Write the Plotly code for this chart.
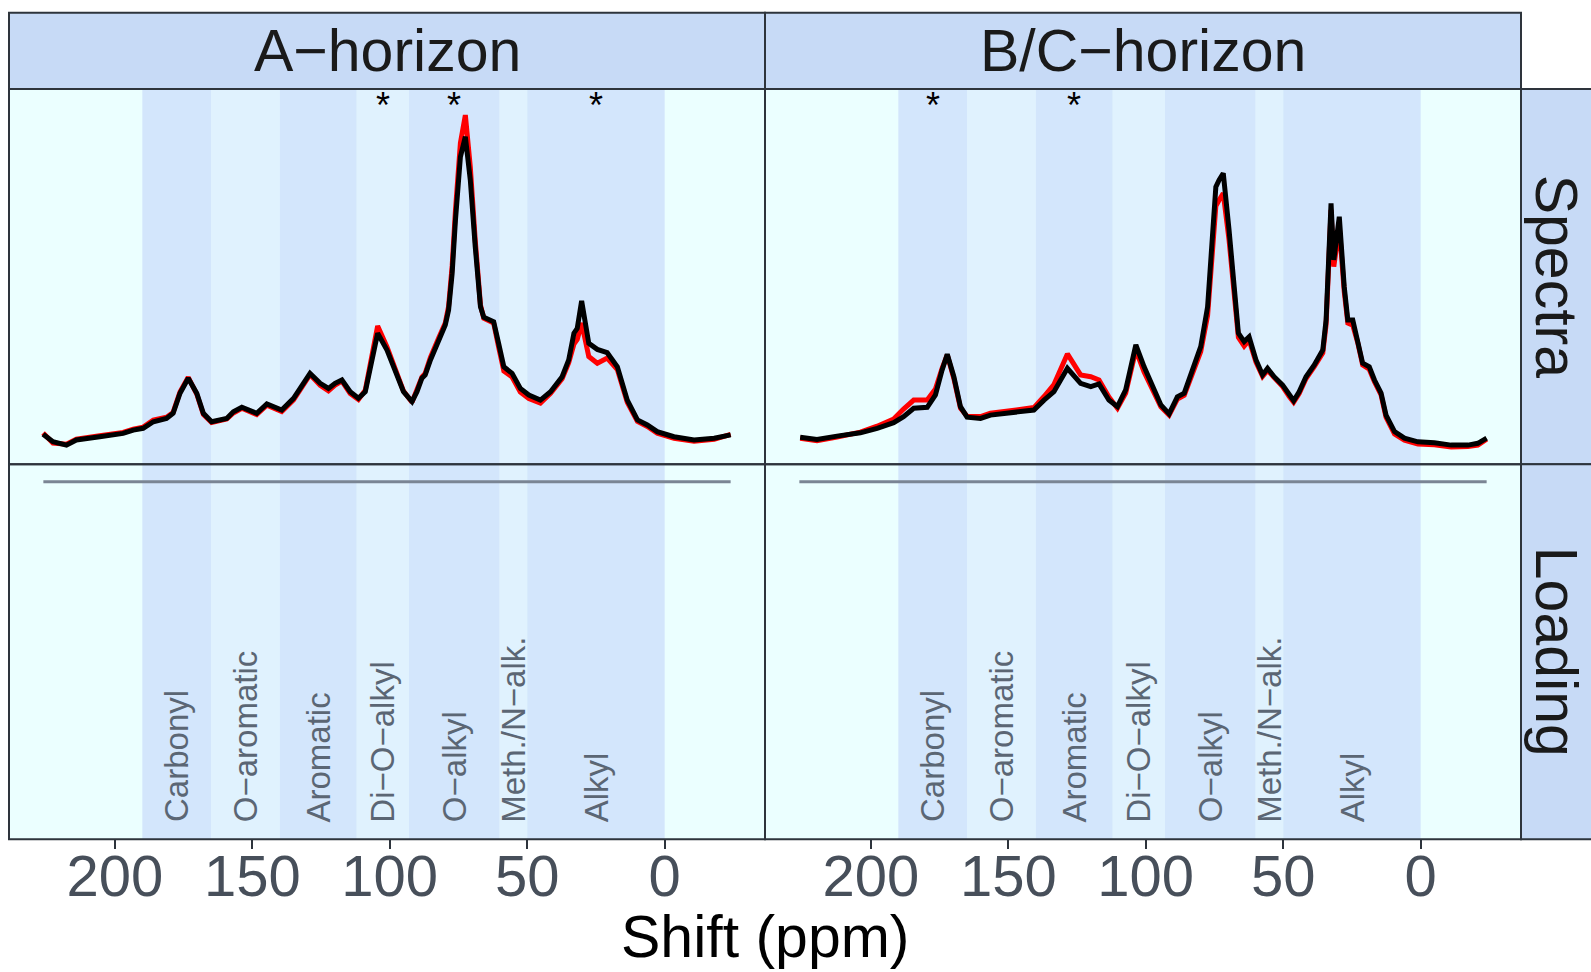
import plotly.graph_objects as go

W, H = 1591, 972
FONT = "Liberation Sans, Arial, Helvetica, sans-serif"

# ---- data -------------------------------------------------------------
facet_cols = ["A−horizon", "B/C−horizon"]
facet_rows = ["Spectra", "Loading"]

# 13C NMR shift regions (ppm)
region_names = ["Carbonyl", "O−aromatic", "Aromatic", "Di−O−alkyl",
                "O−alkyl", "Meth./N−alk.", "Alkyl"]
region_hi = [190, 165, 140, 112, 93, 60, 50]
region_lo = [165, 140, 112, 93, 60, 50, 0]

# regions flagged as significant in each horizon
sig_a = ["Di−O−alkyl", "O−alkyl", "Alkyl"]
sig_bc = ["Carbonyl", "Aromatic"]

# A-horizon spectra (shift in ppm, intensity in a.u.)
ppm_a = [226.1, 222.5, 217.6, 214.0, 205.5, 197.0, 193.3, 189.7, 186.0, 181.2,
         178.8, 176.3, 173.3, 170.2, 167.8, 164.8, 159.3, 156.9, 153.8, 148.4,
         144.7, 139.3, 135.0, 132.0, 129.0, 125.3, 122.3, 119.9, 117.4, 114.4,
         111.4, 108.9, 106.5, 104.4, 101.0, 97.4, 95.0, 91.9, 90.1, 88.3,
         87.1, 85.2, 82.2, 79.8, 78.6, 77.3, 76.1, 74.3, 72.5, 70.7,
         68.9, 67.0, 65.8, 62.2, 60.4, 58.5, 55.5, 52.5, 49.4, 45.2,
         41.5, 37.3, 34.9, 33.0, 31.8, 30.2, 27.6, 24.5, 20.9, 17.2,
         13.6, 9.9, 6.3, 2.7, -3.4, -10.7, -18.0, -24.0]
a_black = [3.9, 1.4, 0.3, 2.0, 3.1, 4.2, 5.3, 5.9, 8.1, 9.2,
           10.9, 17.6, 22.6, 17.6, 10.9, 8.1, 9.2, 11.4, 12.9, 10.9,
           14.0, 12.0, 15.9, 20.3, 24.2, 20.9, 19.2, 20.9, 22.0, 18.1,
           15.9, 18.1, 27.6, 37.6, 32.0, 23.1, 18.1, 14.8, 18.1, 22.6,
           23.7, 28.7, 35.3, 40.3, 45.3, 57.6, 75.3, 96.4, 103.1, 88.7,
           66.4, 46.4, 42.9, 41.4, 34.2, 26.4, 24.2, 19.2, 17.0, 15.3,
           18.1, 23.1, 28.7, 37.6, 39.2, 48.4, 34.2, 32.2, 31.1, 26.4,
           15.3, 8.7, 7.0, 4.8, 3.1, 2.0, 2.6, 3.7]
a_red = [4.3, 1.0, 0.6, 2.3, 3.4, 4.5, 5.6, 6.3, 8.6, 9.6,
         11.2, 18.0, 22.9, 17.3, 10.5, 7.8, 9.0, 11.0, 12.6, 10.5,
         13.6, 11.5, 15.4, 19.8, 23.8, 20.2, 18.4, 20.3, 21.6, 17.5,
         15.5, 18.6, 29.0, 40.0, 33.0, 23.6, 18.3, 14.6, 18.4, 23.0,
         24.2, 29.5, 36.0, 41.0, 46.5, 60.0, 78.5, 101.0, 110.3, 93.0,
         68.5, 47.0, 42.6, 41.0, 33.0, 25.0, 23.0, 18.0, 15.8, 14.3,
         17.6, 22.4, 27.8, 34.0, 35.5, 41.0, 29.8, 27.6, 29.3, 25.5,
         14.6, 8.2, 6.5, 4.3, 2.6, 1.6, 2.2, 3.9]

# B/C-horizon spectra (shift in ppm, intensity in a.u.)
ppm_bc = [225.7, 219.6, 212.3, 203.8, 197.7, 191.7, 188.1, 184.4, 179.5, 176.5,
          174.1, 172.2, 169.8, 167.4, 165.0, 160.1, 156.5, 151.6, 146.7, 140.7,
          137.0, 133.4, 128.5, 123.7, 120.0, 117.0, 113.4, 110.3, 107.3, 103.6,
          100.6, 96.4, 94.5, 91.5, 88.5, 86.0, 83.0, 80.0, 77.5, 75.7,
          74.5, 73.3, 71.8, 69.7, 67.8, 66.3, 64.2, 62.4, 59.9, 57.5,
          55.7, 53.3, 50.2, 47.8, 46.2, 44.2, 41.7, 38.7, 35.6, 34.4,
          32.6, 31.6, 29.6, 27.8, 26.5, 24.7, 22.9, 21.1, 18.7, 16.8,
          14.4, 12.6, 9.5, 5.9, 1.0, -5.0, -11.1, -17.2, -20.8, -24.0]
bc_black = [2.9, 2.2, 3.3, 4.4, 5.9, 7.8, 9.8, 12.6, 12.9, 17.0,
            25.3, 30.6, 23.1, 13.1, 9.6, 9.2, 10.3, 10.9, 11.4, 12.0,
            15.3, 18.1, 25.9, 20.9, 19.8, 20.7, 15.3, 13.1, 18.7, 33.7,
            26.4, 17.6, 13.7, 10.7, 16.4, 17.6, 25.3, 33.1, 46.4, 72.0,
            86.4, 88.7, 90.9, 72.0, 49.8, 37.6, 34.8, 36.4, 28.7, 23.7,
            25.9, 23.1, 20.3, 17.0, 15.1, 18.1, 23.1, 27.0, 32.0, 42.0,
            80.9, 62.0, 76.4, 53.1, 42.0, 42.0, 35.3, 27.6, 26.4, 22.0,
            17.6, 10.3, 4.8, 2.6, 1.4, 1.1, 0.3, 0.3, 0.9, 2.6]
bc_red = [2.6, 1.8, 3.0, 4.6, 6.6, 9.0, 12.3, 15.3, 15.3, 19.0,
          25.8, 30.4, 22.5, 12.6, 9.9, 9.8, 10.9, 11.6, 12.2, 12.8,
          16.5, 20.5, 30.7, 23.7, 23.1, 22.0, 16.3, 12.6, 17.6, 32.0,
          24.7, 16.8, 13.1, 10.3, 15.6, 16.9, 24.2, 31.5, 43.5, 68.0,
          80.0, 82.0, 84.2, 68.7, 48.0, 36.2, 33.3, 35.3, 28.0, 23.2,
          25.2, 22.6, 19.8, 16.5, 14.6, 17.5, 22.5, 26.5, 31.0, 40.5,
          78.7, 59.8, 73.1, 51.5, 41.0, 40.3, 34.5, 27.0, 25.6, 21.4,
          17.0, 9.6, 4.0, 1.9, 0.7, 0.4, -0.3, -0.2, 0.3, 2.3]

# loading trace (flat)
load_ppm = [226.0, -24.0]
load_a = [0.0, 0.0]
load_bc = [0.0, 0.0]

x_ticks = [200, 150, 100, 50, 0]

# ---- styling ----------------------------------------------------------
PANEL_BG = "#EBFFFF"
BAND_DARK = "#D3E6FC"
BAND_LIGHT = "#E0F2FE"
STRIP_BG = "#C7DAF6"
BORDER = "#2E343C"
X_RANGE = [238.5, -36.5]
SPEC_RANGE = [-6.1, 119.0]
LOAD_RANGE = [-1.0, 0.0487]

# panel edges in pixels
col_px = [(9, 765), (765, 1521)]
row_px = [(89, 464.3), (464.3, 839.3)]
strip_top = 12.7
right_strip = (1521, 1595)


def px_x(v):
    return v / W


def px_y(v):
    return 1 - v / H


fig = go.Figure()

# axis ids: row 0 -> spectra, row 1 -> loading
axis_id = {(0, 0): "", (0, 1): "2", (1, 0): "3", (1, 1): "4"}

layout = dict(
    width=W, height=H,
    margin=dict(l=0, r=0, t=0, b=0),
    paper_bgcolor="white",
    plot_bgcolor=PANEL_BG,
    showlegend=False,
    font=dict(family=FONT),
)

for (r, c), aid in axis_id.items():
    xa = dict(
        domain=[px_x(col_px[c][0]), px_x(col_px[c][1])],
        range=X_RANGE, anchor="y" + aid, showgrid=False, zeroline=False,
        showline=False,
    )
    if r == 1:
        xa.update(tickvals=x_ticks, ticktext=[str(t) for t in x_ticks],
                  ticks="outside", ticklen=9, tickwidth=2, tickcolor=BORDER,
                  tickfont=dict(size=58, color="#474F5A", family=FONT),
                  ticklabelstandoff=-23)
    else:
        xa.update(showticklabels=False, ticks="")
    ya = dict(
        domain=[px_y(row_px[r][1]), px_y(row_px[r][0])],
        range=SPEC_RANGE if r == 0 else LOAD_RANGE,
        anchor="x" + aid, showgrid=False, zeroline=False, showline=False,
        showticklabels=False, ticks="",
    )
    layout["xaxis" + aid] = xa
    layout["yaxis" + aid] = ya

fig.update_layout(**layout)

# ---- region bands -----------------------------------------------------
shapes = []
for (r, c), aid in axis_id.items():
    for i, (hi, lo) in enumerate(zip(region_hi, region_lo)):
        shapes.append(dict(
            type="rect", xref="x" + aid, yref="y" + aid + " domain",
            x0=hi, x1=lo, y0=0, y1=1, layer="below", line=dict(width=0),
            fillcolor=BAND_DARK if i % 2 == 0 else BAND_LIGHT,
        ))

# ---- strips and panel borders ----------------------------------------
for c in range(2):
    x0, x1 = col_px[c]
    shapes.append(dict(type="rect", xref="paper", yref="paper",
                       x0=px_x(x0), x1=px_x(x1), y0=px_y(row_px[0][0]), y1=px_y(strip_top),
                       fillcolor=STRIP_BG, line=dict(color=BORDER, width=2), layer="above"))
for r in range(2):
    y0, y1 = row_px[r]
    shapes.append(dict(type="rect", xref="paper", yref="paper",
                       x0=px_x(right_strip[0]), x1=px_x(right_strip[1]),
                       y0=px_y(y1), y1=px_y(y0),
                       fillcolor=STRIP_BG, line=dict(color=BORDER, width=2), layer="above"))
for r in range(2):
    for c in range(2):
        shapes.append(dict(type="rect", xref="paper", yref="paper",
                           x0=px_x(col_px[c][0]), x1=px_x(col_px[c][1]),
                           y0=px_y(row_px[r][1]), y1=px_y(row_px[r][0]),
                           fillcolor="rgba(0,0,0,0)", line=dict(color=BORDER, width=2),
                           layer="above"))
fig.update_layout(shapes=shapes)

# ---- traces -----------------------------------------------------------
spectra = [(ppm_a, a_red, a_black), (ppm_bc, bc_red, bc_black)]
for c, (ppm, red, black) in enumerate(spectra):
    aid = axis_id[(0, c)]
    fig.add_trace(go.Scatter(x=ppm, y=red, mode="lines",
                             line=dict(color="#FF0000", width=5),
                             xaxis="x" + aid, yaxis="y" + aid, hoverinfo="skip"))
    fig.add_trace(go.Scatter(x=ppm, y=black, mode="lines",
                             line=dict(color="#000000", width=5),
                             xaxis="x" + aid, yaxis="y" + aid, hoverinfo="skip"))

for c, load in enumerate([load_a, load_bc]):
    aid = axis_id[(1, c)]
    fig.add_trace(go.Scatter(x=load_ppm, y=load, mode="lines",
                             line=dict(color="#7A8594", width=3),
                             xaxis="x" + aid, yaxis="y" + aid, hoverinfo="skip"))

# ---- annotations ------------------------------------------------------
ann = []
for c, name in enumerate(facet_cols):
    ann.append(dict(text=name, xref="paper", yref="paper",
                    x=px_x(sum(col_px[c]) / 2), y=px_y(51), xanchor="center", yanchor="middle",
                    showarrow=False, font=dict(size=59, color="#1A1A1A", family=FONT)))
for r, name in enumerate(facet_rows):
    ann.append(dict(text=name, xref="paper", yref="paper", textangle=90,
                    x=px_x(1556), y=px_y(sum(row_px[r]) / 2), xanchor="center", yanchor="middle",
                    showarrow=False, font=dict(size=59, color="#1A1A1A", family=FONT)))

for c in range(2):
    aid = axis_id[(1, c)]
    for name, hi, lo in zip(region_names, region_hi, region_lo):
        ann.append(dict(text=name, xref="x" + aid, yref="y" + aid + " domain",
                        x=(hi + lo) / 2, y=0.04, xanchor="center", yanchor="bottom",
                        textangle=-90, showarrow=False,
                        font=dict(size=33, color="#5B6674", family=FONT)))

for c, sig in enumerate([sig_a, sig_bc]):
    aid = axis_id[(0, c)]
    for name in sig:
        i = region_names.index(name)
        ann.append(dict(text="*", xref="x" + aid, yref="y" + aid + " domain",
                        x=(region_hi[i] + region_lo[i]) / 2, y=0.957,
                        xanchor="center", yanchor="middle", showarrow=False,
                        font=dict(size=36, color="#000000", family=FONT)))

ann.append(dict(text="Shift (ppm)", xref="paper", yref="paper",
                x=px_x(765), y=px_y(937), xanchor="center", yanchor="middle",
                showarrow=False, font=dict(size=59, color="#000000", family=FONT)))

fig.update_layout(annotations=ann)

fig.write_html("out.html")
